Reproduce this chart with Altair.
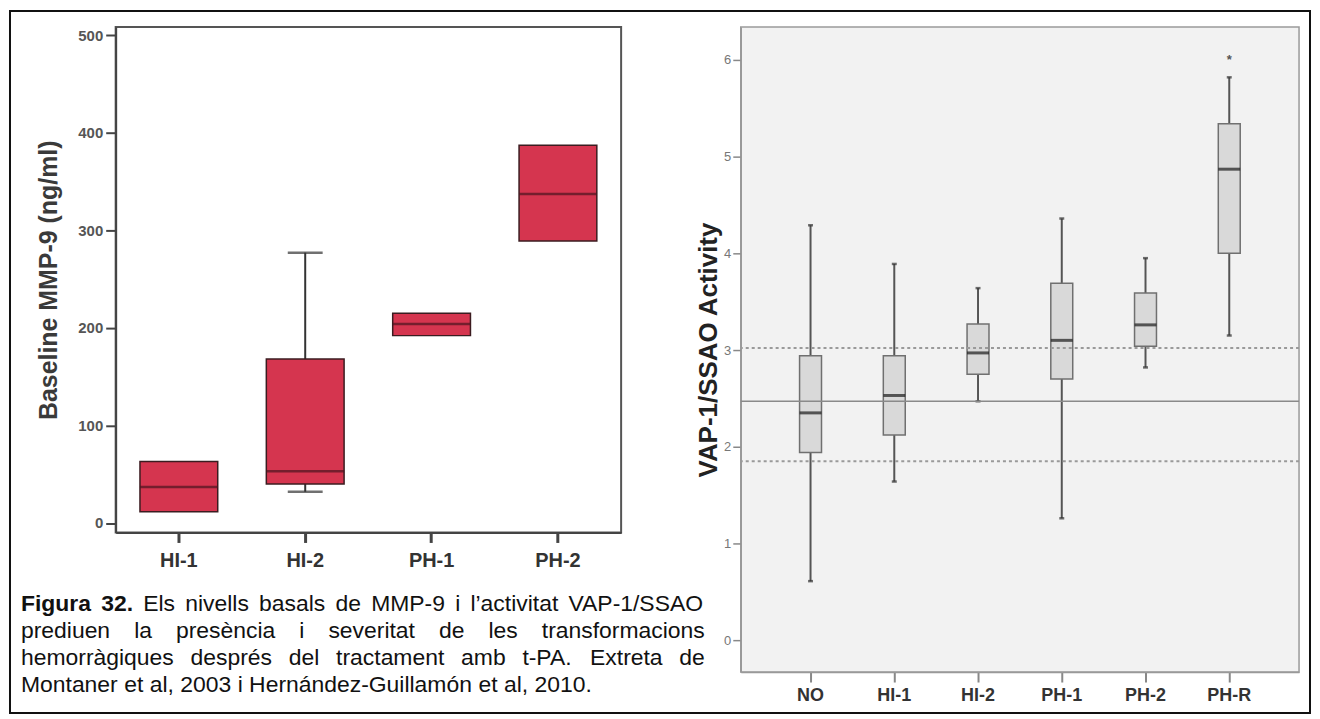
import altair as alt
import pandas as pd

# ---------------- data ----------------
mmp_groups = ["HI-1", "HI-2", "PH-1", "PH-2"]
mmp_min = [11.5, 32, 192, 289]
mmp_q1 = [11.5, 40, 192, 289]
mmp_median = [37, 53, 204, 337]
mmp_q3 = [63, 168, 215, 387]
mmp_max = [63, 277, 215, 387]

vap_groups = ["NO", "HI-1", "HI-2", "PH-1", "PH-2", "PH-R"]
vap_min = [0.61, 1.64, 2.47, 1.26, 2.82, 3.15]
vap_q1 = [1.94, 2.12, 2.75, 2.70, 3.04, 4.00]
vap_median = [2.35, 2.53, 2.97, 3.10, 3.26, 4.87]
vap_q3 = [2.94, 2.94, 3.27, 3.69, 3.59, 5.34]
vap_max = [4.29, 3.89, 3.64, 4.36, 3.95, 5.82]
vap_outlier_groups = ["PH-R"]
vap_outlier_values = [6.03]
vap_ref_mean = [2.47]
vap_ref_limits = [1.85, 3.02]

left_y_title = "Baseline MMP-9 (ng/ml)"
right_y_title = "VAP-1/SSAO Activity"
left_y_ticks = [0, 100, 200, 300, 400, 500]
right_y_ticks = [0, 1, 2, 3, 4, 5, 6]

caption_bold = "Figura 32."
caption_lines = [
    "Els nivells basals de MMP-9 i l\u2019activitat VAP-1/SSAO",
    "prediuen la pres\u00e8ncia i severitat de les transformacions",
    "hemorr\u00e0giques despr\u00e9s del tractament amb t-PA. Extreta de",
    "Montaner et al, 2003 i Hern\u00e1ndez-Guillam\u00f3n et al, 2010.",
]

# ---------------- layout (page pixels) ----------------
LEFT_X0, LEFT_Y0 = 115, 25
LEFT_W, LEFT_H = 507, 507
RIGHT_W, RIGHT_H = 560, 647
GAP = 120
FRAME = (9, 9, 1313, 713)
CAP_L, CAP_R, CAP_SIZE = 20, 706, 23
CAP_BASE = [611, 638, 665, 692]
FONT = "Liberation Sans"

# Arial / Liberation Sans advance widths (1/1000 em)
_REG = {" ": 278, ",": 278, "-": 333, ".": 278, "/": 278, "\u2019": 222}
_REG.update({d: 556 for d in "0123456789"})
_REG.update(dict(zip("ABCDEFGHIJKLMNOPQRSTUVWXYZ",
                     [667, 667, 722, 722, 667, 611, 778, 722, 278, 500, 667, 556, 833,
                      722, 778, 667, 778, 722, 667, 611, 722, 667, 944, 667, 667, 611])))
_REG.update(dict(zip("abcdefghijklmnopqrstuvwxyz",
                     [556, 556, 500, 556, 556, 278, 556, 556, 222, 222, 500, 222, 833,
                      556, 556, 556, 556, 333, 500, 278, 556, 500, 722, 500, 500, 500])))
_REG.update({"\u00e0": 556, "\u00e1": 556, "\u00e8": 556, "\u00e9": 556, "\u00f2": 556, "\u00f3": 556})
_BOLD = dict(_REG)
_BOLD.update({"i": 278, "g": 611, "u": 611, "r": 389, "F": 611})


def text_width(s, size, bold=False):
    table = _BOLD if bold else _REG
    return sum(table.get(ch, 556) for ch in s) * size / 1000.0


def caption_words():
    rows = []
    for i, line in enumerate(caption_lines):
        words = [(w, False) for w in line.split(" ")]
        if i == 0:
            words = [(w, True) for w in caption_bold.split(" ")] + words
        widths = [text_width(w, CAP_SIZE, b) for w, b in words]
        if i < len(caption_lines) - 1:
            gap = (CAP_R - CAP_L - sum(widths)) / (len(words) - 1)
        else:
            gap = text_width(" ", CAP_SIZE)
        x = CAP_L
        for (w, b), wd in zip(words, widths):
            rows.append({"px": x - LEFT_X0, "py": CAP_BASE[i] - LEFT_Y0, "word": w, "bold": b})
            x += wd + gap
    return pd.DataFrame(rows)


# ---------------- left panel ----------------
mmp = pd.DataFrame({"group": mmp_groups, "lo": mmp_min, "q1": mmp_q1,
                    "med": mmp_median, "q3": mmp_q3, "hi": mmp_max})

xl = alt.X("group:N", sort=mmp_groups, title=None,
           scale=alt.Scale(paddingInner=0, paddingOuter=0),
           axis=alt.Axis(labelFont=FONT, labelFontSize=20, labelFontWeight="bold",
                         labelColor="#333333", labelAngle=0, labelPadding=8,
                         tickSize=10, tickWidth=3, tickColor="#444444",
                         domainColor="#444444", domainWidth=2, grid=False))
yl_scale = alt.Scale(domain=[-9.7, 508.2], nice=False, zero=False)
yl_axis = alt.Axis(values=left_y_ticks, labelFont=FONT, labelFontSize=15, labelFontWeight="bold",
                   labelColor="#555555", labelPadding=3, tickSize=10, tickWidth=2,
                   tickColor="#444444", domainColor="#444444", domainWidth=2, grid=False,
                   titleFont=FONT, titleFontSize=25, titleFontWeight="bold",
                   titleColor="#3a3a3a", titlePadding=16)


def yl(field):
    return alt.Y(field, scale=yl_scale, axis=yl_axis, title=left_y_title)


base_l = alt.Chart(mmp)
frame = alt.Chart(pd.DataFrame({"k": [0]})).mark_rect(
    fill="transparent", stroke="#111111", strokeWidth=2).encode(
    x=alt.value(FRAME[0] - LEFT_X0), x2=alt.value(FRAME[2] - LEFT_X0),
    y=alt.value(FRAME[1] - LEFT_Y0), y2=alt.value(FRAME[3] - LEFT_Y0))
whisk_l = base_l.mark_rule(color="#333333", strokeWidth=2).encode(x=xl, y=yl("lo:Q"), y2="hi:Q")
caphi_l = base_l.transform_filter("datum.hi > datum.q3").mark_tick(
    size=35, thickness=2.5, color="#333333").encode(x=xl, y=yl("hi:Q"))
caplo_l = base_l.transform_filter("datum.lo < datum.q1").mark_tick(
    size=35, thickness=2.5, color="#333333").encode(x=xl, y=yl("lo:Q"))
box_l = base_l.mark_bar(size=78, fill="#d5354f", stroke="#3b1c20", strokeWidth=1.5).encode(
    x=xl, y=yl("q1:Q"), y2="q3:Q")
med_l = base_l.mark_tick(size=78, thickness=2.5, color="#4a1520").encode(x=xl, y=yl("med:Q"))

cap_df = caption_words()
cap_norm = alt.Chart(cap_df).transform_filter("!datum.bold").mark_text(
    align="left", baseline="alphabetic", font=FONT, fontSize=CAP_SIZE, color="#111111").encode(
    x=alt.X("px:Q", scale=None, axis=None), y=alt.Y("py:Q", scale=None, axis=None), text="word:N")
cap_bold = alt.Chart(cap_df).transform_filter("datum.bold").mark_text(
    align="left", baseline="alphabetic", font=FONT, fontSize=CAP_SIZE, fontWeight="bold",
    color="#111111").encode(
    x=alt.X("px:Q", scale=None, axis=None), y=alt.Y("py:Q", scale=None, axis=None), text="word:N")

left = alt.layer(frame, whisk_l, caphi_l, caplo_l, box_l, med_l, cap_norm, cap_bold).properties(
    width=LEFT_W, height=LEFT_H,
    view=alt.ViewBackground(fill="white", stroke="#555555", strokeWidth=2))

# ---------------- right panel ----------------
vap = pd.DataFrame({"group": vap_groups, "lo": vap_min, "q1": vap_q1,
                    "med": vap_median, "q3": vap_q3, "hi": vap_max})
outl = pd.DataFrame({"group": vap_outlier_groups, "v": vap_outlier_values})
ref_mean = pd.DataFrame({"v": vap_ref_mean})
ref_lim = pd.DataFrame({"v": vap_ref_limits})

xr = alt.X("group:N", sort=vap_groups, title=None,
           scale=alt.Scale(paddingInner=0, paddingOuter=1 / 3),
           axis=alt.Axis(labelFont=FONT, labelFontSize=18, labelFontWeight="bold",
                         labelColor="#333333", labelAngle=0, labelPadding=5,
                         tickSize=10, tickWidth=2, tickColor="#888888",
                         domainColor="#999999", domainWidth=1.5, grid=False))
yr_scale = alt.Scale(domain=[-0.33, 6.34], nice=False, zero=False)
yr_axis = alt.Axis(values=right_y_ticks, labelFont=FONT, labelFontSize=13, labelColor="#777777",
                   labelPadding=2, tickSize=8, tickWidth=1.5, tickColor="#888888",
                   domainColor="#999999", domainWidth=1.5, grid=False,
                   titleFont=FONT, titleFontSize=26, titleFontWeight="bold",
                   titleColor="#222222", titlePadding=2)


def yr(field):
    return alt.Y(field, scale=yr_scale, axis=yr_axis, title=right_y_title)


base_r = alt.Chart(vap)
whisk_r = base_r.mark_rule(color="#555555", strokeWidth=2).encode(x=xr, y=yr("lo:Q"), y2="hi:Q")
caphi_r = base_r.mark_tick(size=5, thickness=2.5, color="#333333").encode(x=xr, y=yr("hi:Q"))
caplo_r = base_r.mark_tick(size=5, thickness=2.5, color="#333333").encode(x=xr, y=yr("lo:Q"))
box_r = base_r.mark_bar(size=22, fill="#d9d9d9", stroke="#707070", strokeWidth=1.5).encode(
    x=xr, y=yr("q1:Q"), y2="q3:Q")
med_r = base_r.mark_tick(size=22, thickness=3, color="#1a1a1a").encode(x=xr, y=yr("med:Q"))
out_r = alt.Chart(outl).mark_text(text="*", font=FONT, fontSize=13, fontWeight="bold",
                                  color="#555555", dy=3).encode(x=xr, y=yr("v:Q"))
ref_solid = alt.Chart(ref_mean).mark_rule(color="#8a8a8a", strokeWidth=1.5).encode(y=yr("v:Q"))
ref_dash = alt.Chart(ref_lim).mark_rule(color="#9a9a9a", strokeWidth=2, strokeDash=[3, 3]).encode(
    y=yr("v:Q"))

right = alt.layer(whisk_r, caphi_r, caplo_r, box_r, med_r, out_r, ref_solid, ref_dash).properties(
    width=RIGHT_W, height=RIGHT_H,
    view=alt.ViewBackground(fill="#f2f2f2", stroke="#9a9a9a", strokeWidth=1.5))

chart = alt.hconcat(left, right, spacing=GAP, bounds="flush").properties(
    padding=0, background="white")

chart.save("out.html", embed_options={"renderer": "svg", "actions": False})
